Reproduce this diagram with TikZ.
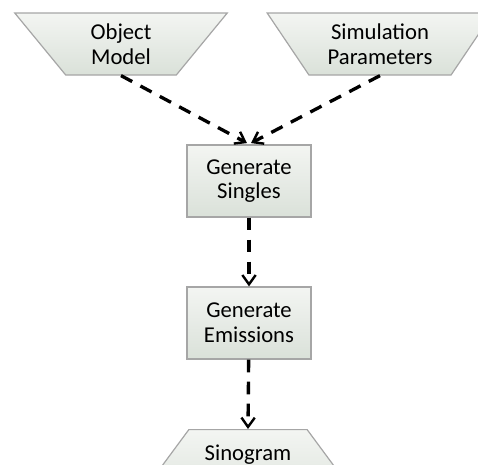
\documentclass[tikz,border=0pt]{standalone}
\usepackage{fontspec}
\setmainfont{Carlito}
\usetikzlibrary{shapes.geometric, arrows.meta}
\definecolor{boxline}{HTML}{A6A6A6}
\definecolor{boxtop}{HTML}{F3F5F2}
\definecolor{boxbot}{HTML}{DAE1D9}
\tikzset{procbox/.style = {draw=boxline, line width=0.9pt, top color=boxtop, bottom color=boxbot, minimum width=93pt, minimum height=54pt, align=center, font=\fontsize{17}{18.5}\selectfont},
  databox/.style = {draw=boxline, line width=0.9pt, top color=boxtop, bottom color=boxbot, trapezium, trapezium stretches=true, align=center, font=\fontsize{17}{18.5}\selectfont},
  flow/.style = {line width=2.5pt, dash pattern=on 9.5pt off 7pt, -{Straight Barb[length=7pt, width=10pt, line width=1.8pt]}}}

\begin{document}
\begin{tikzpicture}[x=0.75pt, y=-0.75pt]
    \useasboundingbox (0, 0) rectangle (478, 464);

    \node [databox, shape border rotate=180, trapezium angle=57, minimum width=160.5pt, minimum height=46.5pt] (obj) at (121, 44) {Object\\Model};
    \node [databox, shape border rotate=180, trapezium angle=56, minimum width=169.5pt, minimum height=46.5pt] (sim) at (380, 44) {Simulation\\Parameters};

    \node [procbox] (singles) at (249, 181) {Generate\\Singles};
    \node [procbox] (emis) at (249, 323) {Generate\\Emissions};

    \node [databox, trapezium angle=51, minimum width=177.75pt, minimum height=60pt, text height=12pt, text depth=25.5pt, anchor=north] (sino) at (248, 429) {Sinogram};

    \draw [flow] (obj.south) -- ([xshift=-1.5pt, yshift=1pt]singles.north);
    \draw [flow] (sim.south) -- ([xshift=1.5pt, yshift=1pt]singles.north);
    \draw [flow] (singles) -- (emis);
    \draw [flow] (emis) -- (sino.north);
  \end{tikzpicture}
\end{document}
